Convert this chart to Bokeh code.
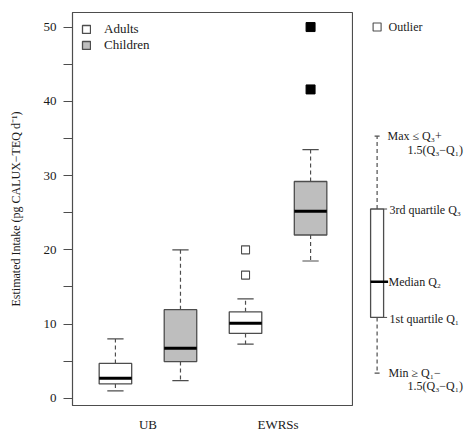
from bokeh.plotting import figure
from bokeh.models import Range1d, FixedTicker, Legend, LegendItem, ColumnDataSource
from bokeh.layouts import row
from bokeh.embed import file_html
from bokeh.resources import INLINE
from bokeh.core.properties import value

# ---- data ----
groups = ["UB", "EWRSs"]
populations = ["Adults", "Children"]
box_labels = ["UB Adults", "UB Children", "EWRSs Adults", "EWRSs Children"]
lower_whisker = [1.0, 2.4, 7.3, 18.5]
q1 = [1.95, 4.95, 8.75, 22.0]
median = [2.7, 6.75, 10.1, 25.2]
q3 = [4.7, 11.95, 11.65, 29.2]
upper_whisker = [8.0, 20.0, 13.4, 33.5]
outliers_adults = [20.0, 16.6]      # EWRSs Adults
outliers_children = [50.0, 41.6]    # EWRSs Children
y_ticks = [0, 10, 20, 30, 40, 50]
y_minor = [5, 15, 25, 35, 45]

FONT = "Liberation Serif"
TXT = "#1a1a1a"
EDGE = "#4d4d4d"
GRAY = "#bebebe"

xs = [i + 1 for i in range(len(box_labels))]
fills = ["white", GRAY, "white", GRAY]

y_range = Range1d(-0.96, 51.96)

p = figure(frame_width=281, frame_height=393, x_range=Range1d(0.34, 4.66), y_range=y_range,
           output_backend="svg", toolbar_location=None,
           min_border_left=72, min_border_right=0, min_border_top=12, min_border_bottom=29)
p.xgrid.visible = False
p.ygrid.visible = False
p.outline_line_color = EDGE
p.outline_line_width = 1.2
p.background_fill_color = "white"
p.border_fill_color = "white"

src = ColumnDataSource(dict(x=xs, q1=q1, q3=q3, med=median, lo=lower_whisker,
                            hi=upper_whisker, fill=fills))

# whiskers
p.segment(x0="x", y0="q3", x1="x", y1="hi", source=src, line_color=EDGE,
          line_width=1.2, line_dash="4 3")
p.segment(x0="x", y0="q1", x1="x", y1="lo", source=src, line_color=EDGE,
          line_width=1.2, line_dash="4 3")
# caps
cap = 0.125
src.data["cl"] = [x - cap for x in xs]
src.data["cr"] = [x + cap for x in xs]
p.segment(x0="cl", y0="hi", x1="cr", y1="hi", source=src, line_color=EDGE, line_width=1.2)
p.segment(x0="cl", y0="lo", x1="cr", y1="lo", source=src, line_color=EDGE, line_width=1.2)

# boxes, one renderer per population for the legend
renderers = []
for k, pop in enumerate(populations):
    idx = [i for i in range(len(xs)) if i % 2 == k]
    s = ColumnDataSource(dict(x=[xs[i] for i in idx], b=[q1[i] for i in idx],
                              t=[q3[i] for i in idx]))
    r = p.vbar(x="x", bottom="b", top="t", width=0.5, source=s,
               fill_color=fills[k], line_color=EDGE, line_width=1.3)
    renderers.append(r)

# medians
src.data["ml"] = [x - 0.25 for x in xs]
src.data["mr"] = [x + 0.25 for x in xs]
p.segment(x0="ml", y0="med", x1="mr", y1="med", source=src, line_color="black",
          line_width=3)

# outliers
p.scatter([xs[2]] * len(outliers_adults), outliers_adults, marker="square", size=8,
          fill_color="white", line_color=EDGE, line_width=1.1)
p.scatter([xs[3]] * len(outliers_children), outliers_children, marker="square", size=9,
          fill_color="black", line_color="black")

legend = Legend(items=[LegendItem(label=populations[k], renderers=[renderers[k]])
                       for k in range(2)],
                location="top_left", margin=9, padding=11, spacing=0,
                glyph_width=10, glyph_height=10, label_height=14, label_standoff=13,
                border_line_color=None, background_fill_alpha=0,
                label_text_font=FONT, label_text_font_size="13px", label_text_color=TXT)
p.add_layout(legend)

# axes
yax = p.yaxis[0]
yax.ticker = FixedTicker(ticks=y_ticks, minor_ticks=y_minor)
yax.major_tick_out = 9
yax.minor_tick_out = 9
yax.major_tick_in = 0
yax.minor_tick_in = 0
yax.axis_line_color = EDGE
yax.major_tick_line_color = EDGE
yax.minor_tick_line_color = EDGE
yax.major_label_standoff = 7
yax.major_label_text_font = FONT
yax.major_label_text_font_size = "13px"
yax.major_label_text_color = TXT
yax.axis_label = "Estimated Intake (pg CALUX\u2212TEQ d\u207b\u00b9)"
yax.axis_label_text_font = FONT
yax.axis_label_text_font_size = "12px"
yax.axis_label_text_font_style = "normal"
yax.axis_label_text_color = TXT
yax.axis_label_standoff = 18

xax = p.xaxis[0]
group_pos = [1.5, 3.5]
xax.ticker = FixedTicker(ticks=group_pos)
xax.major_label_overrides = {gp: g for gp, g in zip(group_pos, groups)}
xax.axis_line_color = None
xax.major_tick_line_color = None
xax.major_tick_out = 0
xax.major_label_standoff = 11
xax.major_label_text_font = FONT
xax.major_label_text_font_size = "13px"
xax.major_label_text_color = TXT

# ---- key panel (explains the box symbol) ----
k = figure(frame_width=122, frame_height=393, x_range=Range1d(353, 475), y_range=y_range,
           output_backend="svg", toolbar_location=None, x_axis_type=None, y_axis_type=None,
           min_border_left=0, min_border_right=0, min_border_top=12, min_border_bottom=29)
k.xgrid.visible = False
k.ygrid.visible = False
k.outline_line_color = None

key_q1, key_med, key_q3, key_lo, key_hi = 10.9, 15.7, 25.5, 3.4, 35.3
kx = 376.6
k.scatter([kx], [50], marker="square", size=8, fill_color="white", line_color=EDGE,
          line_width=1.1)
k.segment([kx, kx], [key_q3, key_q1], [kx, kx], [key_hi, key_lo], line_color=EDGE,
          line_width=1.2, line_dash="4 3")
k.segment([kx - 2.5, kx - 2.5], [key_hi, key_lo], [kx + 2.5, kx + 2.5], [key_hi, key_lo],
          line_color=EDGE, line_width=1.2)
k.quad(left=[kx - 6.5], right=[kx + 6.5], bottom=[key_q1], top=[key_q3],
       fill_color="white", line_color=EDGE, line_width=1.3)
k.segment([kx - 6.5], [key_med], [kx + 11], [key_med], line_color="black", line_width=2.5)
k.segment([kx + 6.5, kx + 6.5], [key_q3, key_q1], [kx + 10, kx + 10], [key_q3, key_q1],
          line_color=EDGE, line_width=1)

key_text = dict(
    x=[388, 387, 407, 389, 388, 389, 388, 407],
    y=[50, 35.3, 33.5, 25.3, 15.7, 10.75, 3.46, 1.7],
    t=["Outlier", "Max \u2264 Q\u2083+", "1.5(Q\u2083\u2212Q\u2081)", "3rd quartile Q\u2083",
       "Median Q\u2082", "1st quartile Q\u2081", "Min \u2265 Q\u2081\u2212",
       "1.5(Q\u2083\u2212Q\u2081)"],
)
k.text(x="x", y="y", text="t", source=ColumnDataSource(key_text),
       text_font=value(FONT), text_font_size="12px", text_color=TXT,
       text_baseline="middle", text_align="left")

layout = row(p, k, spacing=0)
open("out.html", "w").write(file_html(layout, INLINE))
